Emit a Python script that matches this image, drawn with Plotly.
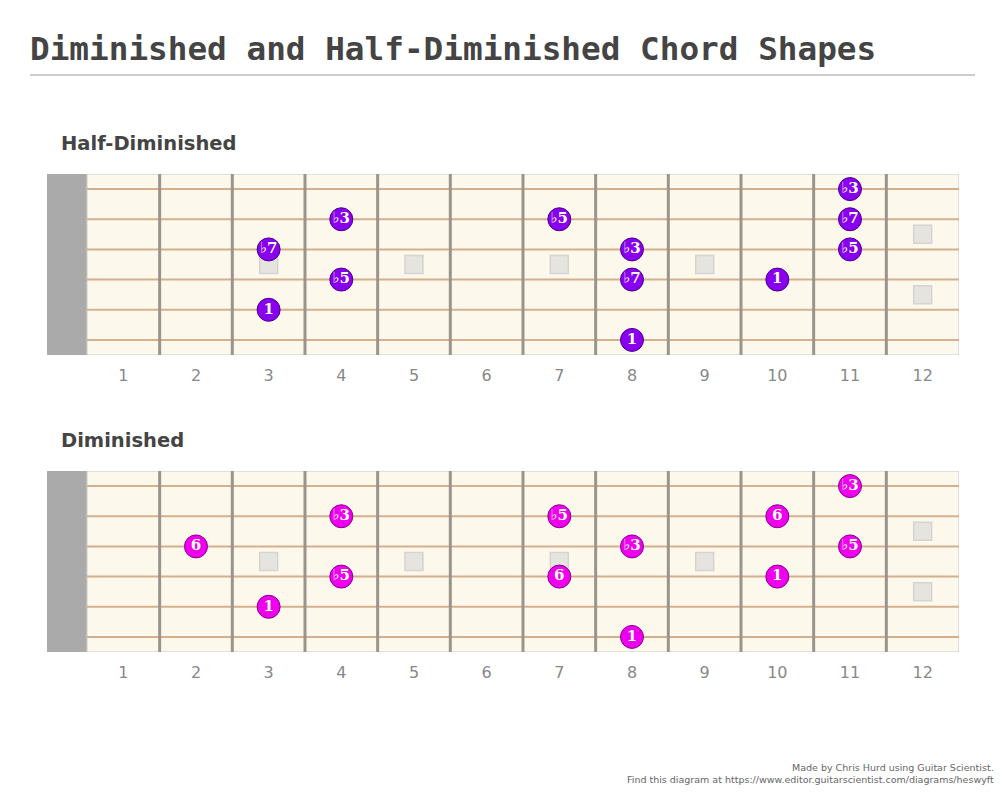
import plotly.graph_objects as go

# chord data: fret, string (0 = top line), interval label
half_dim_frets = [3, 3, 4, 4, 7, 8, 8, 8, 10, 11, 11, 11]
half_dim_strings = [2, 4, 1, 3, 1, 2, 3, 5, 3, 0, 1, 2]
half_dim_labels = ['♭7', '1', '♭3', '♭5', '♭5', '♭3', '♭7', '1', '1', '♭3', '♭7', '♭5']

dim_frets = [2, 3, 4, 4, 7, 7, 8, 8, 10, 10, 11, 11]
dim_strings = [2, 4, 1, 3, 1, 3, 2, 5, 1, 3, 0, 2]
dim_labels = ['6', '1', '♭3', '♭5', '♭5', '6', '♭3', '1', '6', '1', '♭3', '♭5']

inlay_frets = [3, 5, 7, 9, 12, 12]
inlay_strings = [2.5, 2.5, 2.5, 2.5, 1.5, 3.5]

fret_numbers = list(range(1, 13))

boards = [
    ('Half-Diminished', half_dim_frets, half_dim_strings, half_dim_labels, '#8800ee', '#4a0088', 174),
    ('Diminished', dim_frets, dim_strings, dim_labels, '#ee00ee', '#880088', 471),
]

# the page has an 8px body margin, so the figure sits at (8, 8)
OFF = 8
W, H = 1005 - 2 * OFF, 796 - 2 * OFF


def px(x):
    return (x - OFF) / W


def py(y):
    return 1 - (y - OFF) / H


fig = go.Figure()
shapes = []
annotations = []

for i, (name, frets, strings, labels, color, edge, top_px) in enumerate(boards):
    n = '' if i == 0 else str(i + 1)
    xa, ya = 'x' + n, 'y' + n
    fig.update_layout(**{
        'xaxis' + n: dict(domain=[px(47), px(959)], range=[-0.55, 12], showgrid=False, zeroline=False,
                         tickvals=[f - 0.5 for f in fret_numbers], ticktext=[str(f) for f in fret_numbers],
                         ticks='outside', ticklen=6, tickcolor='rgba(0,0,0,0)',
                         tickfont=dict(size=16, color='#888', family='Verdana, DejaVu Sans'),
                         anchor=ya, fixedrange=True),
        'yaxis' + n: dict(domain=[py(top_px + 181), py(top_px)], range=[5.5, -0.5], showgrid=False,
                         zeroline=False, showticklabels=False, anchor=xa, fixedrange=True),
    })
    # headstock and board
    shapes.append(dict(type='rect', xref=xa, yref=ya, x0=-0.55, x1=0, y0=-0.5, y1=5.5,
                       fillcolor='#aaaaaa', line=dict(width=0), layer='below'))
    shapes.append(dict(type='rect', xref=xa, yref=ya, x0=0, x1=12, y0=-0.5, y1=5.5,
                       fillcolor='#fdf8ec', line=dict(color='#c8c8c8', width=1), layer='below'))
    for s in range(6):
        shapes.append(dict(type='line', xref=xa, yref=ya, x0=0, x1=12, y0=s, y1=s,
                           line=dict(color='#d4b08c', width=2), layer='below'))
    for f in range(1, 12):
        shapes.append(dict(type='line', xref=xa, yref=ya, x0=f, x1=f, y0=-0.5, y1=5.5,
                           line=dict(color='#9a948c', width=3), layer='below'))
    fig.add_trace(go.Scatter(x=[f - 0.5 for f in inlay_frets], y=inlay_strings, xaxis=xa, yaxis=ya,
                             mode='markers', hoverinfo='skip',
                             marker=dict(symbol='square', size=18, color='#e6e4df',
                                         line=dict(color='#d6d4d0', width=1.5))))
    fig.add_trace(go.Scatter(x=[f - 0.5 for f in frets], y=strings, xaxis=xa, yaxis=ya,
                             mode='markers+text', text=['<b>%s</b>' % t for t in labels],
                             textposition='middle center',
                             textfont=dict(color='white', size=15, family='DejaVu Serif'),
                             marker=dict(size=23, color=color, line=dict(color=edge, width=1))))
    annotations.append(dict(text='<b>%s</b>' % name, xref='paper', yref='paper', x=px(59),
                            y=py(top_px - 31), xanchor='left', yanchor='middle', showarrow=False,
                            font=dict(size=19.5, color='#444', family='Verdana, DejaVu Sans')))

annotations.append(dict(text='<b>Diminished and Half-Diminished Chord Shapes</b>', xref='paper', yref='paper',
                        x=px(28), y=py(49), xanchor='left', yanchor='middle', showarrow=False,
                        font=dict(size=32.7, color='#444', family='DejaVu Sans Mono')))
annotations.append(dict(text='Made by Chris Hurd using Guitar Scientist.<br>Find this diagram at https://www.editor.guitarscientist.com/diagrams/heswyft',
                        xref='paper', yref='paper', x=px(996), y=py(787), xanchor='right', yanchor='bottom',
                        align='right', showarrow=False,
                        font=dict(size=9.5, color='#666', family='Verdana, DejaVu Sans')))
shapes.append(dict(type='line', xref='paper', yref='paper', x0=px(30), x1=px(975), y0=py(75), y1=py(75),
                   line=dict(color='#cccccc', width=2)))

fig.update_layout(width=W, height=H, margin=dict(l=0, r=0, t=0, b=0), showlegend=False,
                  plot_bgcolor='white', paper_bgcolor='white', shapes=shapes, annotations=annotations)
fig.write_html('out.html')
